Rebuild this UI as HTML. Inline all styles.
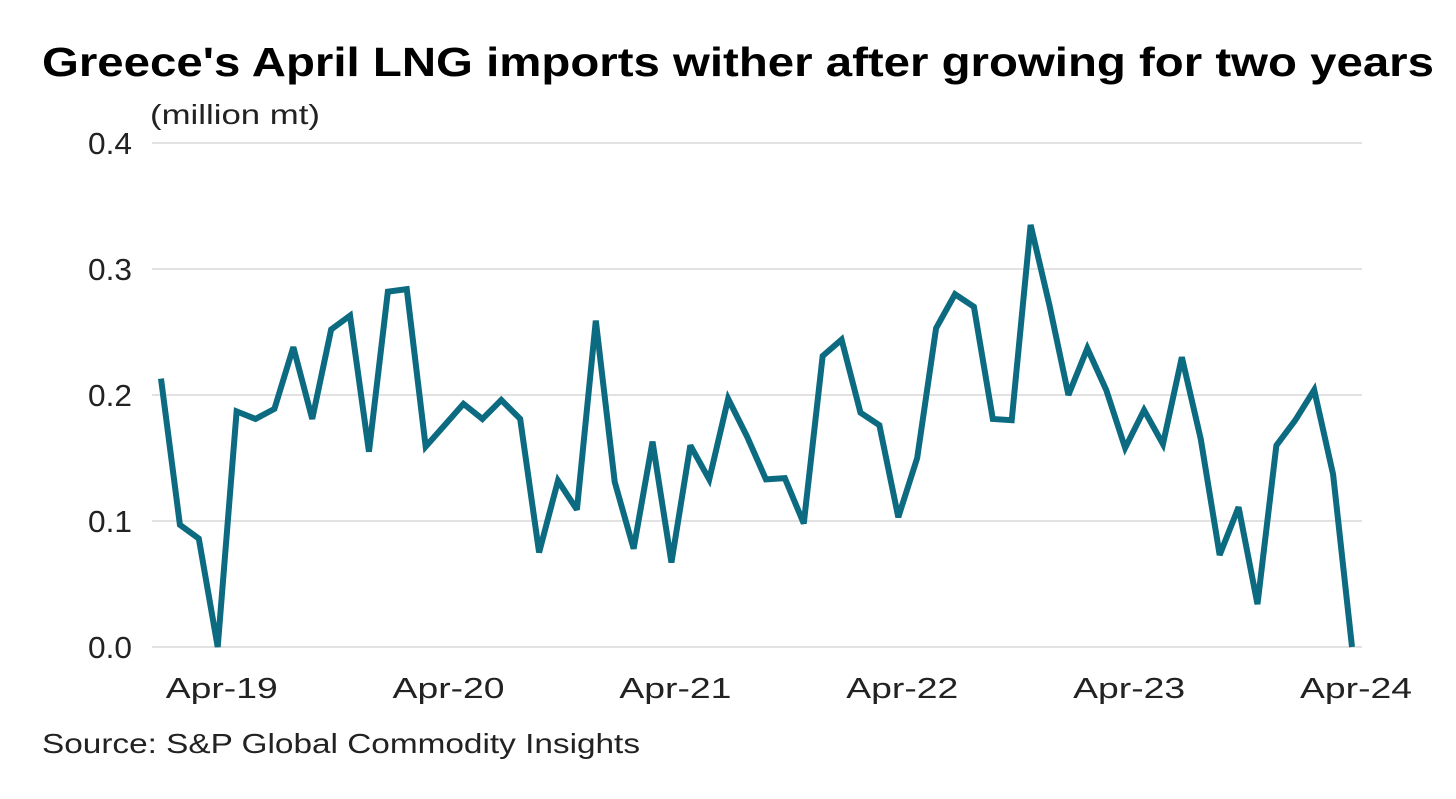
<!DOCTYPE html>
<html><head><meta charset="utf-8"><style>
html,body{margin:0;padding:0;background:#fff;}
body{width:1456px;height:794px;overflow:hidden;font-family:"Liberation Sans",sans-serif;}
</style></head><body>
<svg width="1456" height="794" xmlns="http://www.w3.org/2000/svg">
<text x="42" y="76" font-size="41" font-weight="bold" fill="#000" textLength="1392" lengthAdjust="spacingAndGlyphs">Greece's April LNG imports wither after growing for two years</text>
<text x="150" y="124" font-size="28" fill="#222" textLength="170" lengthAdjust="spacingAndGlyphs">(million mt)</text>
<g id="grid"></g><g id="yt"></g><g id="xt"></g><g id="series"></g>
<text x="42" y="753" font-size="28" fill="#222" textLength="598" lengthAdjust="spacingAndGlyphs">Source: S&amp;P Global Commodity Insights</text>
</svg>
<script>
const values=[0.213,0.097,0.086,0.0,0.187,0.181,0.189,0.238,0.181,0.252,0.263,0.155,0.282,0.284,0.159,0.176,0.193,0.181,0.196,0.181,0.075,0.132,0.109,0.259,0.131,0.078,0.163,0.067,0.160,0.133,0.197,0.167,0.133,0.134,0.098,0.231,0.244,0.186,0.176,0.103,0.150,0.253,0.280,0.270,0.181,0.180,0.335,0.271,0.200,0.237,0.204,0.158,0.188,0.161,0.230,0.165,0.073,0.111,0.034,0.160,0.180,0.204,0.137,0.0];
const yTicks=[0,0.1,0.2,0.3,0.4];
const yTickLabels=["0.0","0.1","0.2","0.3","0.4"];
const xTickIdx=[3,15,27,39,51,63];
const xTickLabels=["Apr-19","Apr-20","Apr-21","Apr-22","Apr-23","Apr-24"];
const NS="http://www.w3.org/2000/svg";
const x=i=>161+i*(1352-161)/63;
const y=v=>647-v*(647-143)/0.4;
function mk(t,a,p){const e=document.createElementNS(NS,t);for(const k in a)e.setAttribute(k,a[k]);document.getElementById(p).appendChild(e);return e;}
yTicks.forEach((v,i)=>{
 const l=mk('line',{x1:152,x2:1362,y1:y(v),y2:y(v),stroke:'#d0d0d0','stroke-width':1.3},'grid');
 
 
 const t=mk('text',{x:132,y:y(v)+11,'font-size':31,'text-anchor':'end',fill:'#222',textLength:44,lengthAdjust:'spacingAndGlyphs'},'yt');
 t.textContent=yTickLabels[i];
 
 
});
xTickIdx.forEach((ix,i)=>{
 const t=mk('text',{x:x(ix)+4,y:698,'font-size':29,'text-anchor':'middle',fill:'#222',textLength:112,lengthAdjust:'spacingAndGlyphs'},'xt');
 t.textContent=xTickLabels[i];
 
 
});
const p=mk('polyline',{points:values.map((v,i)=>x(i)+','+y(v)).join(' '),fill:'none',stroke:'#0c6b80','stroke-width':6,'stroke-linejoin':'miter','stroke-miterlimit':3},'series');


</script>
</body></html>
